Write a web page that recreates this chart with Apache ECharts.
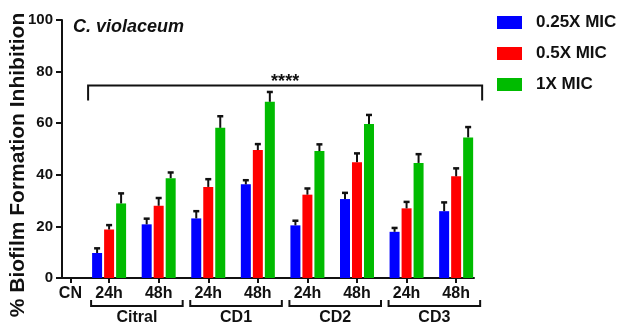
<!DOCTYPE html>
<html><head><meta charset="utf-8">
<script src="https://cdn.jsdelivr.net/npm/echarts@6/dist/echarts.min.js"></script>
<style>html,body{margin:0;padding:0;background:#fff}#c{width:627px;height:325px}</style>
</head><body><div id="c"></div>
<script>
const groups = ['Citral', 'CD1', 'CD2', 'CD3'];
const timepoints = ['24h', '48h'];
const controlLabel = 'CN';
const seriesNames = ['0.25X MIC', '0.5X MIC', '1X MIC'];
const mic025 = [9.7, 20.8, 23.1, 36.3, 20.4, 30.6, 17.9, 25.9];
const mic025Err = [1.8, 2.2, 2.8, 1.6, 1.8, 2.4, 1.5, 3.4];
const mic05 = [18.8, 28.0, 35.3, 49.6, 32.3, 44.9, 27.0, 39.4];
const mic05Err = [1.7, 3.0, 3.0, 2.3, 2.4, 3.4, 2.5, 3.1];
const mic1 = [28.9, 38.7, 58.2, 68.3, 49.2, 59.7, 44.6, 54.5];
const mic1Err = [3.9, 2.2, 4.5, 3.8, 2.6, 3.5, 3.4, 4.0];
const yTicks = [0, 20, 40, 60, 80, 100];
const significance = '****';
const chartTitle = 'C. violaceum';
const yAxisTitle = '% Biofilm Formation Inhibition';

const FONT = '"Liberation Sans", Arial, sans-serif';
const colors = ['#0000FF', '#FF0000', '#00BB00'];
const allValues = [mic025, mic05, mic1];
const allErrors = [mic025Err, mic05Err, mic1Err];

// categories along x: CN control, then groups x timepoints at 1..8
const cnPos = 0.22;
const catLabels = [];
groups.forEach(g => timepoints.forEach(t => catLabels.push(t)));
const catPos = catLabels.map((_, i) => i + 1);
const tickPos = [cnPos].concat(catPos);

const barSeries = seriesNames.map((name, s) => ({
  name, type: 'bar', barWidth: 10, barGap: '20%',
  itemStyle: { color: colors[s] },
  data: allValues[s].map((v, i) => [catPos[i], v]),
  z: 2
}));

const errData = [];
allValues.forEach((arr, s) => arr.forEach((v, i) => errData.push([catPos[i], v, allErrors[s][i], s])));

const chart = echarts.init(document.getElementById('c'), null, { renderer: 'canvas' });
chart.setOption({
  animation: false,
  backgroundColor: '#fff',
  title: {
    text: chartTitle, left: 73, top: 18, padding: 0,
    textStyle: { fontFamily: FONT, fontSize: 18, fontWeight: 'bold', fontStyle: 'italic', color: '#111' }
  },
  legend: {
    data: seriesNames, orient: 'vertical', left: 497, top: 14, padding: 0,
    itemWidth: 25, itemHeight: 13, itemGap: 14, icon: 'rect',
    textStyle: { fontFamily: FONT, fontSize: 17, fontWeight: 'bold', color: '#111', padding: [0, 0, 0, 9] }
  },
  grid: { left: 62, top: 20, right: 153, bottom: 47, containLabel: false, outerBoundsMode: 'none' },
  xAxis: {
    type: 'value', min: 0.05, max: 8.36,
    splitLine: { show: false },
    axisLine: { show: true, lineStyle: { color: '#111', width: 2 } },
    axisTick: { show: true, customValues: tickPos, length: 5, lineStyle: { color: '#111', width: 2 } },
    axisLabel: {
      customValues: tickPos, margin: 8,
      fontFamily: FONT, fontSize: 16, fontWeight: 'bold', color: '#111',
      formatter: v => (v < 1 ? controlLabel : catLabels[Math.round(v) - 1])
    }
  },
  yAxis: {
    type: 'value', min: yTicks[0], max: yTicks[yTicks.length - 1], interval: 20,
    splitLine: { show: false },
    axisLine: { show: true, lineStyle: { color: '#111', width: 2 } },
    axisTick: { show: true, length: 6, lineStyle: { color: '#111', width: 2 } },
    axisLabel: { margin: 9, fontFamily: FONT, fontSize: 15, fontWeight: 'bold', color: '#111' },
    name: yAxisTitle, nameLocation: 'middle', nameRotate: 90, nameGap: 33, nameMoveOverlap: false,
    nameTextStyle: { fontFamily: FONT, fontSize: 21, fontWeight: 'bold', color: '#111', padding: [0, 32, 0, 0] }
  },
  series: barSeries.concat([
    {
      type: 'custom', clip: false, z: 3,
      encode: { x: 0, y: 1 },
      data: errData,
      renderItem(params, api) {
        const x = api.value(0), v = api.value(1), e = api.value(2), s = api.value(3);
        const off = (s - 1) * 12;
        const base = api.coord([x, v]);
        const top = api.coord([x, v + e]);
        const cx = base[0] + off;
        return { type: 'group', children: [
          { type: 'line', shape: { x1: cx, y1: base[1], x2: cx, y2: top[1] }, style: { stroke: '#111', lineWidth: 2 } },
          { type: 'line', shape: { x1: cx - 3, y1: top[1], x2: cx + 3, y2: top[1] }, style: { stroke: '#111', lineWidth: 2.5 } }
        ] };
      }
    },
    {
      type: 'custom', clip: false, z: 3,
      encode: { x: 0, y: 1 },
      data: groups.map((g, i) => [i * 2 + 1, 0, i * 2 + 2]),
      renderItem(params, api) {
        const a = api.coord([api.value(0), 0]);
        const b = api.coord([api.value(2), 0]);
        const left = a[0] - 18, right = b[0] + 24;
        const y = a[1] + 28, yl = a[1] + 22;
        return { type: 'group', children: [
          { type: 'polyline', shape: { points: [[left, yl], [left, y], [right, y], [right, yl]] }, style: { stroke: '#111', lineWidth: 2, fill: null } },
          { type: 'text', style: { text: groups[params.dataIndex], x: (left + right) / 2, y: a[1] + 40, align: 'center', verticalAlign: 'middle',
            fontFamily: FONT, fontSize: 16, fontWeight: 'bold', fill: '#111' } }
        ] };
      }
    },
    {
      type: 'custom', clip: false, z: 3,
      encode: { x: 0, y: 1 },
      data: [[catPos[0], 74.6, catPos[catPos.length - 1]]],
      renderItem(params, api) {
        const a = api.coord([api.value(0), api.value(1)]);
        const b = api.coord([api.value(2), api.value(1)]);
        const left = a[0] - 21, right = b[0] + 26;
        const y = a[1], yl = a[1] + 15;
        return { type: 'group', children: [
          { type: 'polyline', shape: { points: [[left, yl], [left, y], [right, y], [right, yl]] }, style: { stroke: '#111', lineWidth: 2, fill: null } },
          { type: 'text', style: { text: significance, x: (left + right) / 2, y: y - 4, align: 'center', verticalAlign: 'middle',
            fontFamily: FONT, fontSize: 18, fontWeight: 'bold', fill: '#111' } }
        ] };
      }
    }
  ])
});
</script>
</body></html>
